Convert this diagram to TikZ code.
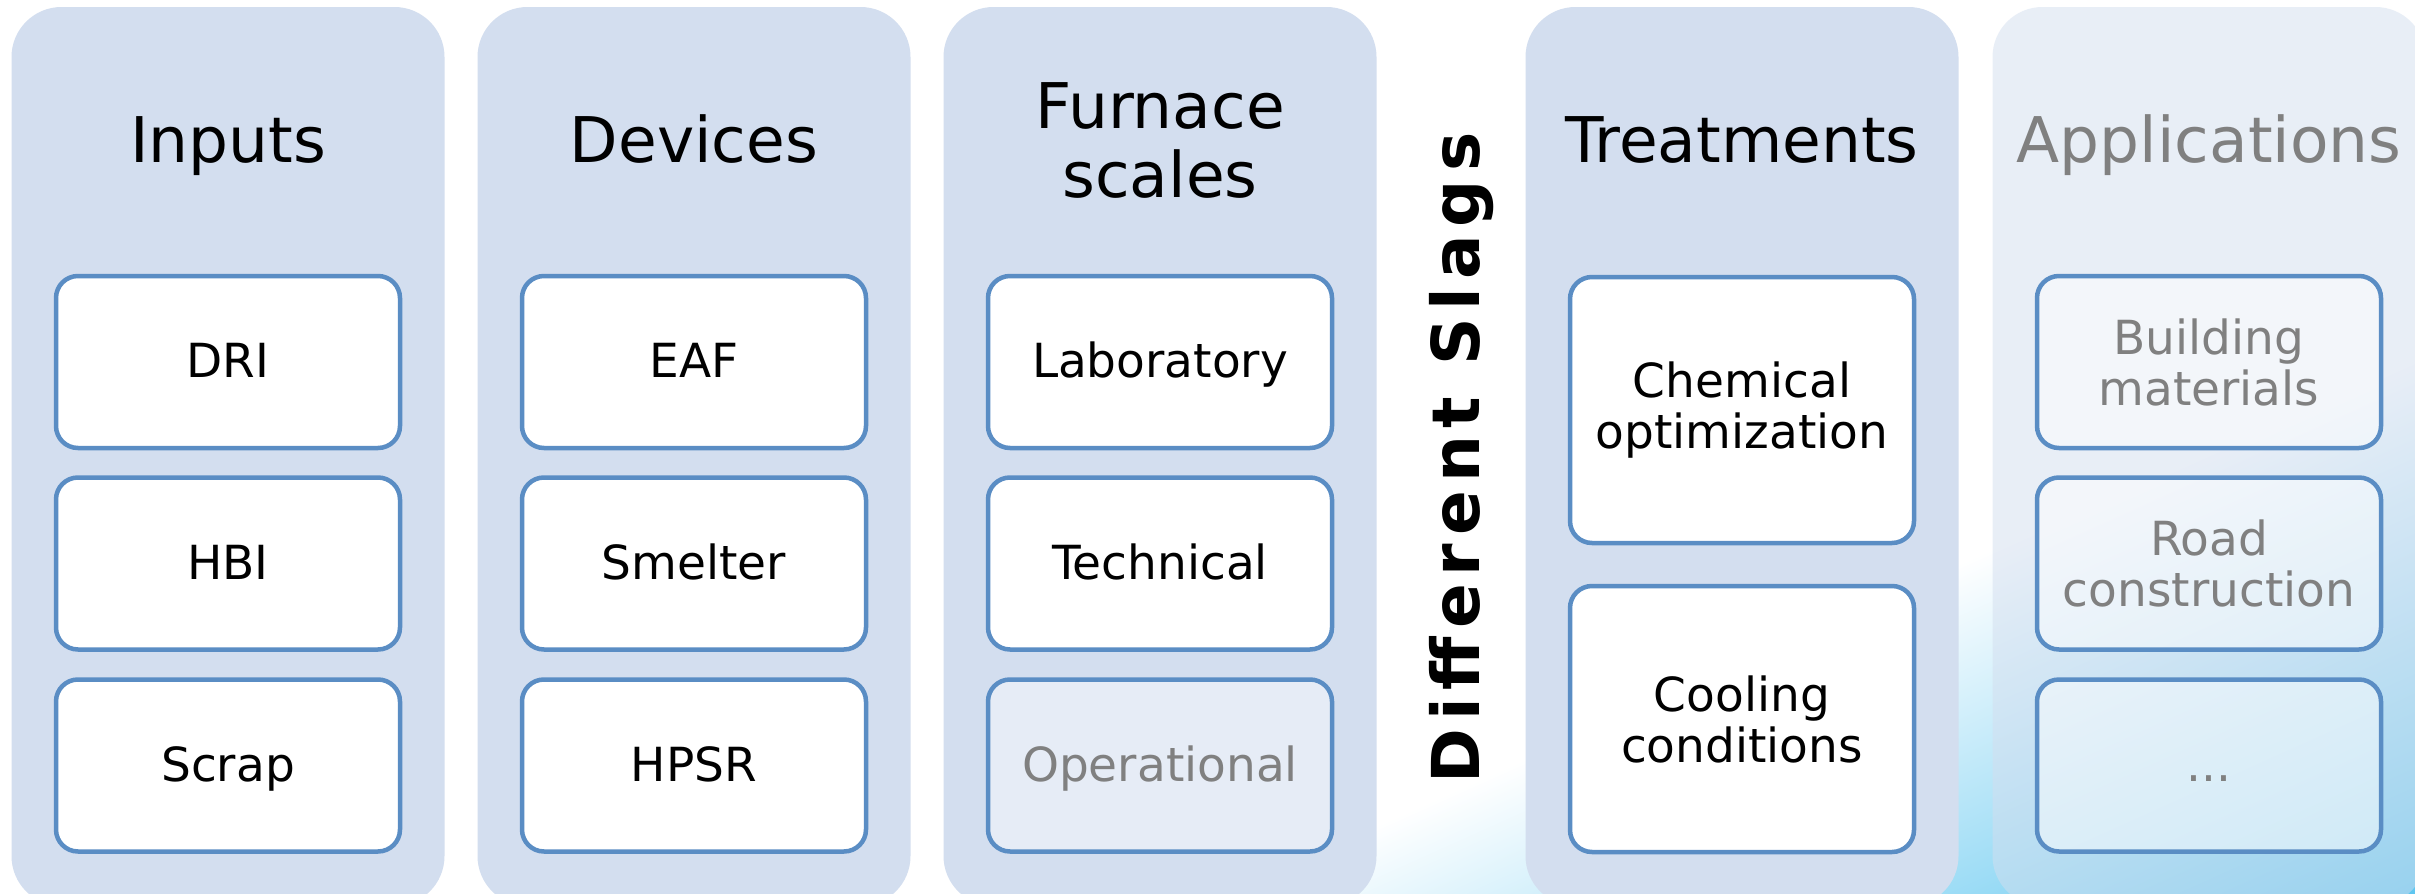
\documentclass[tikz,border=0pt]{standalone}
\usepackage{fontspec}
\setmainfont{DejaVu Sans}
\newfontfamily\slagfont{DejaVu Sans}[LetterSpace=12]
\definecolor{colfill}{HTML}{D3DEEF}
\definecolor{boxline}{HTML}{5A8DC4}
\definecolor{opfill}{HTML}{E6ECF6}
\definecolor{graytxt}{HTML}{808080}
\definecolor{sky}{HTML}{4DC0EE}
\begin{document}
\begin{tikzpicture}[x=1pt,y=-1pt,
  column/.style={fill=colfill, rounded corners=50pt, minimum width=433pt, minimum height=899pt, inner sep=0pt},
  appcolumn/.style={column, fill opacity=0.5},
  title/.style={font=\fontsize{63}{69}\selectfont, align=center, text=black, inner sep=0pt},
  onetitle/.style={title, text height=48pt, text depth=3pt},
  itembox/.style={draw=boxline, line width=4.5pt, fill=white, rounded corners=22pt, minimum width=344pt, minimum height=172pt, align=center, font=\fontsize{47}{51}\selectfont, inner sep=0pt},
  oneline/.style={text height=36pt, text depth=5pt},
  tallbox/.style={itembox, minimum height=266pt},
  fadedbox/.style={itembox, fill=opfill, text=graytxt},
  appbox/.style={itembox, fill opacity=0.5, text opacity=1, text=graytxt},
]
\useasboundingbox (0,0) rectangle (2415,894);
\clip (0,0) rectangle (2415,894);
\fill[white] (0,0) rectangle (2415,894);
\begin{scope}[transform canvas={shift={(1370,894)}, rotate=24.2}]
  \shade[top color=white, bottom color=sky] (-4000pt,-480pt) rectangle (4000pt,60pt);
  \fill[sky] (-4000pt,-3000pt) rectangle (4000pt,-479pt);
\end{scope}

% columns
\node[column] (cin) at (228,456.5) {};
\node[column] (cdev) at (694,456.5) {};
\node[column] (cfur) at (1160,456.5) {};
\node[column] (ctre) at (1742,456.5) {};
\node[appcolumn] (capp) at (2209,456.5) {};

% titles
\node[onetitle] (tin) at (228,140) {Inputs};
\node[onetitle] (tdev) at (694,140) {Devices};
\node[title] (tfur) at (1160,140) {Furnace\\scales};
\node[onetitle] (ttre) at (1742,140) {Treatments};
\node[onetitle, text=graytxt] (tapp) at (2209,140) {Applications};

% inputs
\node[itembox, oneline] (dri) at (228,362) {DRI};
\node[itembox, oneline] (hbi) at (228,563.5) {HBI};
\node[itembox, oneline] (scrap) at (228,765.5) {Scrap};
% devices
\node[itembox, oneline] (eaf) at (694,362) {EAF};
\node[itembox, oneline] (smelter) at (694,563.5) {Smelter};
\node[itembox, oneline] (hpsr) at (694,765.5) {HPSR};
% furnace scales
\node[itembox, oneline] (lab) at (1160,362) {Laboratory};
\node[itembox, oneline] (tech) at (1160,563.5) {Technical};
\node[fadedbox, oneline] (oper) at (1160,765.5) {Operational};
% treatments
\node[tallbox] (chem) at (1742,410) {Chemical\\optimization};
\node[tallbox] (cool) at (1742,719) {Cooling\\conditions};
% applications
\node[appbox] (build) at (2209,362) {Building\\materials};
\node[appbox] (road) at (2209,563.5) {Road\\construction};
\node[appbox, oneline] (etc) at (2209,765.5) {...};

% vertical label
\node[rotate=90, inner sep=0pt, font=\slagfont\bfseries\fontsize{66}{70}\selectfont] (slags) at (1462,458) {Different Slags};
\end{tikzpicture}
\end{document}
